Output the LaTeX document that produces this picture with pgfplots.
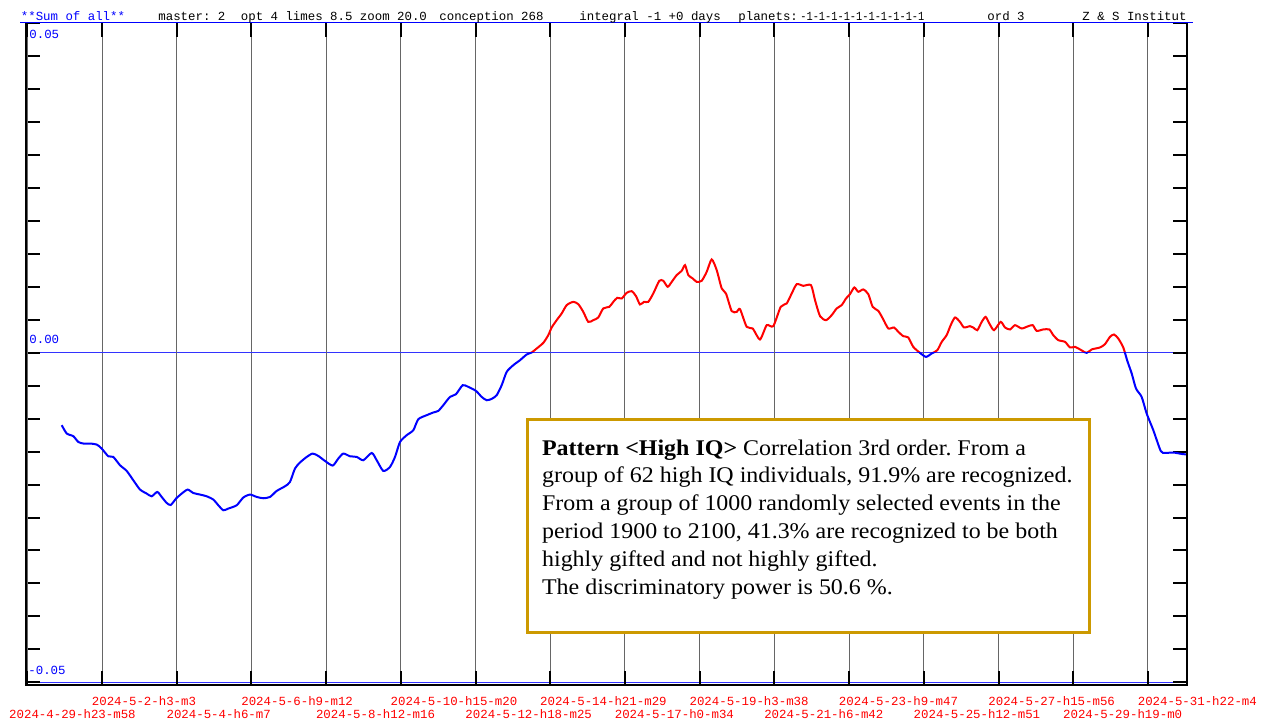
\documentclass[border=0pt]{standalone}
\usepackage{fontspec}
\setmainfont{Liberation Serif}
\newfontfamily\mono{Liberation Mono}
\newfontfamily\boxfont[FakeStretch=1.07]{Liberation Serif}
\usepackage{graphicx}
\usepackage{pgfplots}
\usepackage{pgfplotstable}
\pgfplotsset{compat=1.18}
\definecolor{gold}{RGB}{204,153,0}
\newcommand\lab{\mono\fontsize{6.2}{7}\selectfont}
\frenchspacing

\pgfplotstableread{
x y
0.461 -0.01100
0.528 -0.01226
0.616 -0.01267
0.683 -0.01354
0.750 -0.01378
0.839 -0.01378
0.929 -0.01393
0.996 -0.01454
1.084 -0.01571
1.151 -0.01581
1.241 -0.01707
1.331 -0.01794
1.419 -0.01935
1.509 -0.02076
1.598 -0.02137
1.665 -0.02178
1.740 -0.02112
1.799 -0.02188
1.866 -0.02279
1.920 -0.02310
1.991 -0.02213
2.067 -0.02137
2.147 -0.02076
2.222 -0.02128
2.312 -0.02152
2.401 -0.02178
2.490 -0.02228
2.557 -0.02314
2.624 -0.02390
2.691 -0.02364
2.803 -0.02314
2.891 -0.02197
2.981 -0.02152
3.071 -0.02188
3.159 -0.02208
3.249 -0.02188
3.338 -0.02097
3.450 -0.02026
3.516 -0.01961
3.583 -0.01757
3.650 -0.01666
3.740 -0.01581
3.820 -0.01530
3.895 -0.01566
3.985 -0.01642
4.088 -0.01712
4.163 -0.01606
4.230 -0.01530
4.320 -0.01571
4.409 -0.01581
4.498 -0.01631
4.610 -0.01521
4.677 -0.01631
4.765 -0.01794
4.855 -0.01733
4.922 -0.01581
4.989 -0.01354
5.078 -0.01252
5.167 -0.01176
5.234 -0.01009
5.346 -0.00948
5.435 -0.00907
5.501 -0.00883
5.568 -0.00797
5.658 -0.00671
5.738 -0.00630
5.828 -0.00493
5.903 -0.00519
6.006 -0.00580
6.082 -0.00671
6.149 -0.00721
6.216 -0.00701
6.283 -0.00645
6.350 -0.00493
6.417 -0.00291
6.505 -0.00190
6.595 -0.00114
6.685 -0.00027
6.752 0.00003
6.819 0.00064
6.907 0.00149
6.974 0.00266
7.019 0.00382
7.086 0.00493
7.153 0.00595
7.220 0.00721
7.308 0.00771
7.375 0.00736
7.442 0.00619
7.509 0.00467
7.576 0.00493
7.643 0.00534
7.710 0.00671
7.790 0.00695
7.844 0.00771
7.897 0.00832
7.956 0.00822
8.023 0.00907
8.090 0.00933
8.148 0.00857
8.201 0.00731
8.255 0.00771
8.312 0.00771
8.379 0.00898
8.460 0.01090
8.513 0.01090
8.572 0.00999
8.626 0.01074
8.692 0.01176
8.759 0.01241
8.804 0.01328
8.848 0.01176
8.907 0.01126
8.960 0.01074
9.027 0.01090
9.094 0.01226
9.161 0.01414
9.228 0.01252
9.295 0.00974
9.352 0.00898
9.429 0.00630
9.496 0.00619
9.540 0.00660
9.629 0.00392
9.710 0.00367
9.807 0.00200
9.897 0.00417
9.985 0.00402
10.085 0.00695
10.165 0.00747
10.232 0.00898
10.299 0.01039
10.387 0.01014
10.490 0.01024
10.544 0.00797
10.611 0.00554
10.691 0.00493
10.767 0.00569
10.834 0.00671
10.901 0.00721
10.959 0.00822
11.012 0.00888
11.070 0.00989
11.123 0.00923
11.190 0.00959
11.257 0.00888
11.316 0.00695
11.391 0.00634
11.458 0.00504
11.525 0.00367
11.601 0.00382
11.659 0.00316
11.726 0.00250
11.792 0.00231
11.859 0.00088
11.949 -0.00003
12.029 -0.00064
12.106 -0.00012
12.181 0.00038
12.240 0.00164
12.306 0.00266
12.360 0.00417
12.418 0.00534
12.484 0.00467
12.538 0.00382
12.618 0.00402
12.662 0.00382
12.716 0.00341
12.775 0.00467
12.828 0.00543
12.877 0.00443
12.940 0.00341
13.029 0.00467
13.087 0.00382
13.154 0.00352
13.221 0.00417
13.310 0.00367
13.399 0.00402
13.458 0.00417
13.511 0.00331
13.599 0.00352
13.680 0.00352
13.733 0.00266
13.800 0.00190
13.890 0.00164
13.957 0.00079
14.024 0.00088
14.091 0.00049
14.180 -0.00003
14.247 0.00049
14.358 0.00079
14.425 0.00129
14.492 0.00240
14.546 0.00276
14.603 0.00215
14.670 0.00079
14.724 -0.00124
14.783 -0.00316
14.840 -0.00543
14.916 -0.00671
14.983 -0.00923
15.072 -0.01176
15.171 -0.01490
15.228 -0.01521
15.339 -0.01514
15.473 -0.01540
15.523 -0.01540
}\curve

\begin{document}
\begin{tikzpicture}
\useasboundingbox (0,0) rectangle (632.5pt,361pt);
\begin{axis}[name=ax, at={(13pt,18.5pt)}, anchor=south west, scale only axis,
  width=580.5pt, height=331pt,
  xmin=-0.0173, xmax=15.523, ymin=-0.0504, ymax=0.05,
  axis line style={draw=none},
  tick align=inside, major tick length=7pt, minor tick length=7pt,
  tick style={black, line width=1pt},
  xtick={1,3,...,15},
  xticklabels={2024-5-2-h3-m3,2024-5-6-h9-m12,2024-5-10-h15-m20,2024-5-14-h21-m29,2024-5-19-h3-m38,2024-5-23-h9-m47,2024-5-27-h15-m56,2024-5-31-h22-m4},
  extra x ticks={0,2,...,14},
  extra x tick labels={\kern-4pt 2024-4-29-h23-m58,2024-5-4-h6-m7,2024-5-8-h12-m16,2024-5-12-h18-m25,2024-5-17-h0-m34,2024-5-21-h6-m42,2024-5-25-h12-m51,2024-5-29-h19-m0},
  extra x tick style={grid=major, xticklabel style={yshift=-6.5pt}},
  xticklabel style={font=\lab, text=red, anchor=north west, inner sep=0pt, xshift=-5.25pt, yshift=-5.6pt},
  xmajorgrids, x grid style={black!60, line width=0.5pt},
  ytick={-0.05,0,0.05}, yticklabels={,,}, minor y tick num=9,
  scaled y ticks=false,
  ymajorgrids, y grid style={blue!80, line width=0.5pt},
]
\begin{scope}
\clip (axis cs:-1,0) rectangle (axis cs:17,0.06);
\addplot[red, line width=1pt, no marks, smooth, tension=0.4] table[x=x,y=y]{\curve};
\end{scope}
\begin{scope}
\clip (axis cs:-1,-0.06) rectangle (axis cs:17,0);
\addplot[blue, line width=1pt, no marks, smooth, tension=0.4] table[x=x,y=y]{\curve};
\end{scope}
\end{axis}
\draw[line width=1pt, black] (ax.north west) -- (ax.south west) -- (ax.south east) -- (ax.north east);
\draw[blue, line width=0.5pt] ([xshift=-3pt]ax.north west) -- ([xshift=3pt]ax.north east);
% y labels
\node[anchor=north west, inner sep=0pt, font=\lab, text=blue] at (14.5pt,346pt) {0.05};
\node[anchor=base west, inner sep=0pt, font=\lab, text=blue] at (14.5pt,189pt) {0.00};
\node[anchor=base west, inner sep=0pt, font=\lab, text=blue] at (14pt,23.5pt) {-0.05};
% header
\node[anchor=base west, inner sep=0pt, font=\lab, text=blue] at (10.25pt,350.75pt) {**Sum of all**};
\node[anchor=base west, inner sep=0pt, font=\lab] at (79pt,350.75pt) {master: 2};
\node[anchor=base west, inner sep=0pt, font=\lab] at (120.25pt,350.75pt) {opt 4 limes 8.5 zoom 20.0};
\node[anchor=base west, inner sep=0pt, font=\lab] at (219.5pt,350.75pt) {conception 268};
\node[anchor=base west, inner sep=0pt, font=\lab] at (289.5pt,350.75pt) {integral -1 +0 days};
\node[anchor=base west, inner sep=0pt, font=\lab] at (369pt,350.75pt) {planets:};
\node[anchor=base west, inner sep=0pt, font=\lab] at (400pt,350.75pt) {\scalebox{0.833}[1]{-1-1-1-1-1-1-1-1-1-1}};
\node[anchor=base west, inner sep=0pt, font=\lab] at (493.5pt,350.75pt) {ord 3};
\node[anchor=base west, inner sep=0pt, font=\lab] at (541pt,350.75pt) {Z \& S Institut};
% text box
\draw[gold, line width=1.5pt, fill=white] (263.5pt,151pt) rectangle (544.5pt,44.5pt);
\node[anchor=north west, inner sep=0pt, align=left, font=\boxfont\fontsize{11.2}{13.9}\selectfont] at (270.85pt,141.45pt)
 {\textbf{Pattern <High IQ>} Correlation 3rd order. From a\\
  group of 62 high IQ individuals, 91.9\% are recognized.\\
  From a group of 1000 randomly selected events in the\\
  period 1900 to 2100, 41.3\% are recognized to be both\\
  highly gifted and not highly gifted.\\
  The discriminatory power is 50.6 \%.};
\end{tikzpicture}
\end{document}
